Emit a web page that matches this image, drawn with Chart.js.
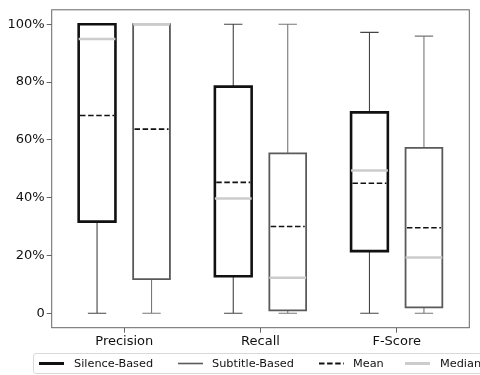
<!DOCTYPE html>
<html><head><meta charset="utf-8">
<script src="https://cdn.jsdelivr.net/npm/chart.js@4"></script>
<style>
html,body{margin:0;padding:0;background:#fff;}
#wrap{position:relative;width:480px;height:375px;overflow:hidden;}
canvas{position:absolute;left:0;top:0;}
#legend{position:absolute;left:33px;top:353px;width:470px;height:21px;border:1px solid #d9d9d9;border-radius:3px;box-sizing:border-box;font-family:"DejaVu Sans";font-size:11.3px;color:#111;background:#fff;}
.item{position:absolute;top:0;height:19px;line-height:19px;white-space:nowrap;}
.item svg{position:absolute;top:0;}
</style>
</head><body>
<div id="wrap">
<canvas id="c" width="480" height="375"></canvas>
<div id="legend"></div>
</div>
<script>
const categories = ['Precision', 'Recall', 'F-Score'];
const seriesNames = ['Silence-Based', 'Subtitle-Based'];
const legendNames = ['Silence-Based', 'Subtitle-Based', 'Mean', 'Median'];
const yTicks = [0, 20, 40, 60, 80, 100];

const silenceLow    = [0, 0, 0];
const silenceQ1     = [31.7, 12.8, 21.5];
const silenceMedian = [94.9, 39.7, 49.4];
const silenceQ3     = [100, 78.4, 69.5];
const silenceHigh   = [100, 100, 97.2];
const silenceMean   = [68.4, 45.3, 45.0];

const subtitleLow    = [0, 0, 0];
const subtitleQ1     = [11.8, 1.0, 2.0];
const subtitleMedian = [100, 12.3, 19.3];
const subtitleQ3     = [100, 55.3, 57.2];
const subtitleHigh   = [100, 100, 95.9];
const subtitleMean   = [63.7, 30.0, 29.6];

const series = [
  {low: silenceLow, q1: silenceQ1, med: silenceMedian, q3: silenceQ3, high: silenceHigh, mean: silenceMean,
   offset: -0.2, boxColor: '#111', boxLw: 2.6, whiskerColor: '#444', whiskerLw: 1.1},
  {low: subtitleLow, q1: subtitleQ1, med: subtitleMedian, q3: subtitleQ3, high: subtitleHigh, mean: subtitleMean,
   offset: 0.2, boxColor: '#5a5a5a', boxLw: 1.8, whiskerColor: '#777', whiskerLw: 1.1}
];
const boxW = 0.27;
const capW = 0.135;

const datasets = [];
function lineDs(points, color, width, order, dash, cap) {
  return {data: points, showLine: true, borderColor: color, borderWidth: width, pointRadius: 0,
    pointHoverRadius: 0, borderDash: dash || [], order: order, spanGaps: false, tension: 0,
    borderCapStyle: cap || 'butt', borderJoinStyle: 'miter', fill: false};
}
series.forEach(s => {
  categories.forEach((c, i) => {
    const x = i + s.offset, h = boxW / 2, k = capW / 2;
    datasets.push(lineDs([
      {x: x, y: s.q1}, {x: x, y: s.low}, {x: x, y: null},
      {x: x - k, y: s.low[i]}, {x: x + k, y: s.low[i]}, {x: x, y: null},
      {x: x, y: s.q3[i]}, {x: x, y: s.high[i]}, {x: x, y: null},
      {x: x - k, y: s.high[i]}, {x: x + k, y: s.high[i]}
    ].map(p => ({x: p.x, y: Array.isArray(p.y) ? p.y[i] : p.y})), s.whiskerColor, s.whiskerLw, 4));
    datasets.push(lineDs([
      {x: x - h, y: s.q1[i]}, {x: x + h, y: s.q1[i]}, {x: x + h, y: s.q3[i]},
      {x: x - h, y: s.q3[i]}, {x: x - h, y: s.q1[i]}, {x: x + h, y: s.q1[i]}
    ], s.boxColor, s.boxLw, 3));
    datasets.push(lineDs([{x: x - h, y: s.med[i]}, {x: x + h, y: s.med[i]}], '#cccccc', 2.6, 1));
    datasets.push(lineDs([{x: x - h + 0.01, y: s.mean[i]}, {x: x + h - 0.01, y: s.mean[i]}], '#111', 1.6, 0, [5.5, 2.6]));
  });
});

const framePlugin = {
  id: 'frame',
  afterDatasetsDraw(chart) {
    const {ctx, chartArea: a} = chart;
    ctx.save();
    ctx.strokeStyle = '#666';
    ctx.lineWidth = 1;
    ctx.strokeRect(a.left, a.top, a.right - a.left, a.bottom - a.top);
    ctx.restore();
  }
};

const tickFont = {family: 'DejaVu Sans', size: 13};
new Chart(document.getElementById('c'), {
  type: 'scatter',
  data: {datasets: datasets},
  options: {
    responsive: false, animation: false, devicePixelRatio: 1,
    layout: {padding: {left: 0, right: 10.7, top: 5.3, bottom: 0}},
    plugins: {legend: {display: false}, tooltip: {enabled: false}},
    events: [],
    scales: {
      x: {
        type: 'linear', min: -0.533, max: 2.533,
        afterBuildTicks: sc => { sc.ticks = categories.map((c, i) => ({value: i})); },
        afterFit: sc => { sc.height = 47.3; },
        ticks: {callback: v => categories[Math.round(v)], font: tickFont, color: '#111', padding: 1, autoSkip: false, maxRotation: 0},
        grid: {drawOnChartArea: false, drawTicks: true, tickLength: 5, color: '#666'},
        border: {display: false}
      },
      y: {
        type: 'linear', min: -5, max: 105,
        afterBuildTicks: sc => { sc.ticks = yTicks.map(v => ({value: v})); },
        afterFit: sc => { sc.width = 51.7; },
        ticks: {callback: v => v === 0 ? '0' : v + '%', font: tickFont, color: '#111', padding: 2},
        grid: {drawOnChartArea: false, drawTicks: true, tickLength: 5, color: '#666'},
        border: {display: false}
      }
    }
  },
  plugins: [framePlugin]
});

// legend
const legendStyles = [
  {line: 5, text: 40, color: '#111', w: 3, dash: ''},
  {line: 144, text: 178, color: '#5a5a5a', w: 1.6, dash: ''},
  {line: 285, text: 319, color: '#111', w: 1.8, dash: '5.5,2.6'},
  {line: 371, text: 406, color: '#cccccc', w: 3, dash: ''}
];
const lg = document.getElementById('legend');
legendNames.forEach((n, i) => {
  const st = legendStyles[i];
  const line = document.createElement('div');
  line.className = 'item';
  line.style.left = st.line + 'px';
  line.innerHTML = '<svg width="26" height="19"><line x1="0" y1="9.5" x2="25" y2="9.5" stroke="' + st.color +
    '" stroke-width="' + st.w + '"' + (st.dash ? ' stroke-dasharray="' + st.dash + '"' : '') + '/></svg>';
  lg.appendChild(line);
  const t = document.createElement('div');
  t.className = 'item';
  t.style.left = st.text + 'px';
  t.textContent = n;
  lg.appendChild(t);
});
</script>
</body></html>
